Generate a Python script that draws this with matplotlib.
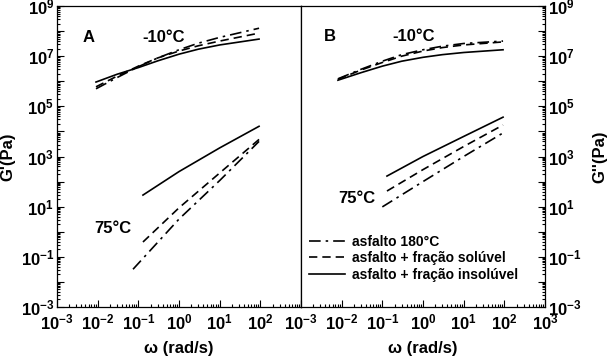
import numpy as np
import matplotlib
matplotlib.use("Agg")
import matplotlib.pyplot as plt
from matplotlib.ticker import LogLocator, FuncFormatter, NullFormatter

plt.rcParams['font.family'] = ['Liberation Sans', 'DejaVu Sans']
plt.rcParams['font.weight'] = 'bold'
plt.rcParams['axes.unicode_minus'] = False
plt.rcParams['mathtext.fontset'] = 'custom'
plt.rcParams['mathtext.rm'] = 'Liberation Sans:bold'
plt.rcParams['mathtext.bf'] = 'Liberation Sans:bold'
plt.rcParams['mathtext.it'] = 'Liberation Sans:bold'

# ---- data (omega in rad/s, modulus in Pa) ----
# panel A: G'
A_cold_w = [0.0091, 0.03, 0.1, 0.3, 1, 3, 10, 93]
A_cold_insol = [9.3e5, 1.9e6, 3.5e6, 6.5e6, 1.2e7, 1.9e7, 2.8e7, 4.8e7]
A_cold_sol = [6.0e5, 1.6e6, 4.0e6, 8.5e6, 1.6e7, 2.6e7, 4.0e7, 8.3e7]
A_cold_180 = [5.0e5, 1.4e6, 3.8e6, 8.5e6, 1.8e7, 3.3e7, 5.6e7, 1.3e8]

A_hot_w_insol = [0.13, 1, 10, 93]
A_hot_insol = [29, 250, 2.2e3, 1.6e4]
A_hot_w_sol = [0.13, 1, 10, 93]
A_hot_sol = [0.39, 9, 220, 4.8e3]
A_hot_w_180 = [0.074, 1, 10, 93]
A_hot_180 = [0.032, 3.2, 110, 4.0e3]

# panel B: G''
B_cold_w = [0.0081, 0.03, 0.1, 0.3, 1, 3, 10, 93]
B_cold_insol = [1.1e6, 2.2e6, 4.0e6, 6.3e6, 9.0e6, 1.15e7, 1.4e7, 1.8e7]
B_cold_sol = [1.2e6, 2.8e6, 5.6e6, 1.0e7, 1.6e7, 2.2e7, 2.8e7, 3.7e7]
B_cold_180 = [1.25e6, 3.0e6, 6.3e6, 1.15e7, 1.8e7, 2.5e7, 3.2e7, 4.0e7]

B_hot_w_insol = [0.13, 1, 10, 93]
B_hot_insol = [166, 1.0e3, 6.3e3, 3.7e4]
B_hot_w_sol = [0.13, 1, 10, 93]
B_hot_sol = [42, 300, 2.5e3, 1.8e4]
B_hot_w_180 = [0.1, 1, 10, 93]
B_hot_180 = [9.8, 100, 1.0e3, 8.7e3]

labels = ["asfalto 180°C", "asfalto + fração solúvel", "asfalto + fração insolúvel"]
dash_180 = (0, (7, 3, 1.5, 3))
dash_sol = (0, (5, 3))

fig = plt.figure(figsize=(6.08, 3.56), dpi=100)
axA = fig.add_axes([57 / 608, 49 / 356, 244 / 608, 301 / 356])
axB = fig.add_axes([301 / 608, 49 / 356, 244 / 608, 301 / 356])

lw = 1.2


def sup(v, pos):
    e = int(round(np.log10(v)))
    return r'$\mathbf{10^{%d}}$' % e


for ax in (axA, axB):
    ax.set_xscale('log')
    ax.set_yscale('log')
    ax.set_xlim(1e-3, 1e3)
    ax.set_ylim(1e-3, 1e9)
    for s in ax.spines.values():
        s.set_linewidth(0.9)
    ax.xaxis.set_major_locator(LogLocator(base=10, numticks=20))
    ax.xaxis.set_minor_locator(LogLocator(base=10, subs=np.arange(2, 10), numticks=20))
    ax.xaxis.set_minor_formatter(NullFormatter())
    ax.yaxis.set_major_locator(LogLocator(base=10, numticks=20))
    ax.yaxis.set_minor_locator(LogLocator(base=10, subs=np.arange(2, 10), numticks=20))
    ax.yaxis.set_minor_formatter(NullFormatter())
    ax.tick_params(which='both', direction='in', top=False, labelsize=12, width=0.8)
    ax.tick_params(which='major', length=5)
    ax.tick_params(which='minor', length=2.5)
    ax.tick_params(axis='x', pad=4)
    ax.set_xlabel('ω (rad/s)', fontsize=12, weight='bold', labelpad=6)

# x tick labels
axA.xaxis.set_major_formatter(FuncFormatter(lambda v, p: sup(v, p) if v < 500 else ''))
axB.xaxis.set_major_formatter(FuncFormatter(sup))


# y tick labels: only odd exponents
def odd_sup(v, pos):
    e = int(round(np.log10(v)))
    return sup(v, pos) if e % 2 else ''


axA.yaxis.set_major_formatter(FuncFormatter(odd_sup))
axA.tick_params(axis='y', which='both', left=True, right=False, pad=2)
axB.yaxis.tick_right()
axB.yaxis.set_label_position('right')
axB.yaxis.set_major_formatter(FuncFormatter(odd_sup))
axB.tick_params(axis='y', which='both', left=False, right=True, pad=2)

axA.set_ylabel("G'(Pa)", fontsize=12, weight='bold', labelpad=4)
axB.set_ylabel("G''(Pa)", fontsize=12, weight='bold', labelpad=8)

# panel A curves
axA.plot(A_cold_w, A_cold_180, 'k', lw=lw, linestyle=dash_180)
axA.plot(A_cold_w, A_cold_sol, 'k', lw=lw, linestyle=dash_sol)
axA.plot(A_cold_w, A_cold_insol, 'k', lw=lw)
axA.plot(A_hot_w_180, A_hot_180, 'k', lw=lw, linestyle=dash_180)
axA.plot(A_hot_w_sol, A_hot_sol, 'k', lw=lw, linestyle=dash_sol)
axA.plot(A_hot_w_insol, A_hot_insol, 'k', lw=lw)

# panel B curves
l1, = axB.plot(B_cold_w, B_cold_180, 'k', lw=lw, linestyle=dash_180)
l2, = axB.plot(B_cold_w, B_cold_sol, 'k', lw=lw, linestyle=dash_sol)
l3, = axB.plot(B_cold_w, B_cold_insol, 'k', lw=lw)
axB.plot(B_hot_w_180, B_hot_180, 'k', lw=lw, linestyle=dash_180)
axB.plot(B_hot_w_sol, B_hot_sol, 'k', lw=lw, linestyle=dash_sol)
axB.plot(B_hot_w_insol, B_hot_insol, 'k', lw=lw)

# annotations
fs = 12
axA.text(0.13, 0.895, 'A', transform=axA.transAxes, fontsize=fs, weight='bold', va='center', ha='center')
axA.text(0.435, 0.895, '-10°C', transform=axA.transAxes, fontsize=fs, weight='bold', va='center', ha='center')
axA.text(0.23, 0.26, '75°C', transform=axA.transAxes, fontsize=fs, weight='bold', va='center', ha='center')
axB.text(0.12, 0.90, 'B', transform=axB.transAxes, fontsize=fs, weight='bold', va='center', ha='center')
axB.text(0.46, 0.90, '-10°C', transform=axB.transAxes, fontsize=fs, weight='bold', va='center', ha='center')
axB.text(0.23, 0.36, '75°C', transform=axB.transAxes, fontsize=fs, weight='bold', va='center', ha='center')

axB.legend([l1, l2, l3], labels, loc='lower left', bbox_to_anchor=(0.0, 0.055),
           frameon=False, handlelength=2.6, handletextpad=0.5,
           labelspacing=0.2, borderaxespad=0.2, prop={'weight': 'bold', 'size': 10})

fig.savefig('out.png', dpi=100)
